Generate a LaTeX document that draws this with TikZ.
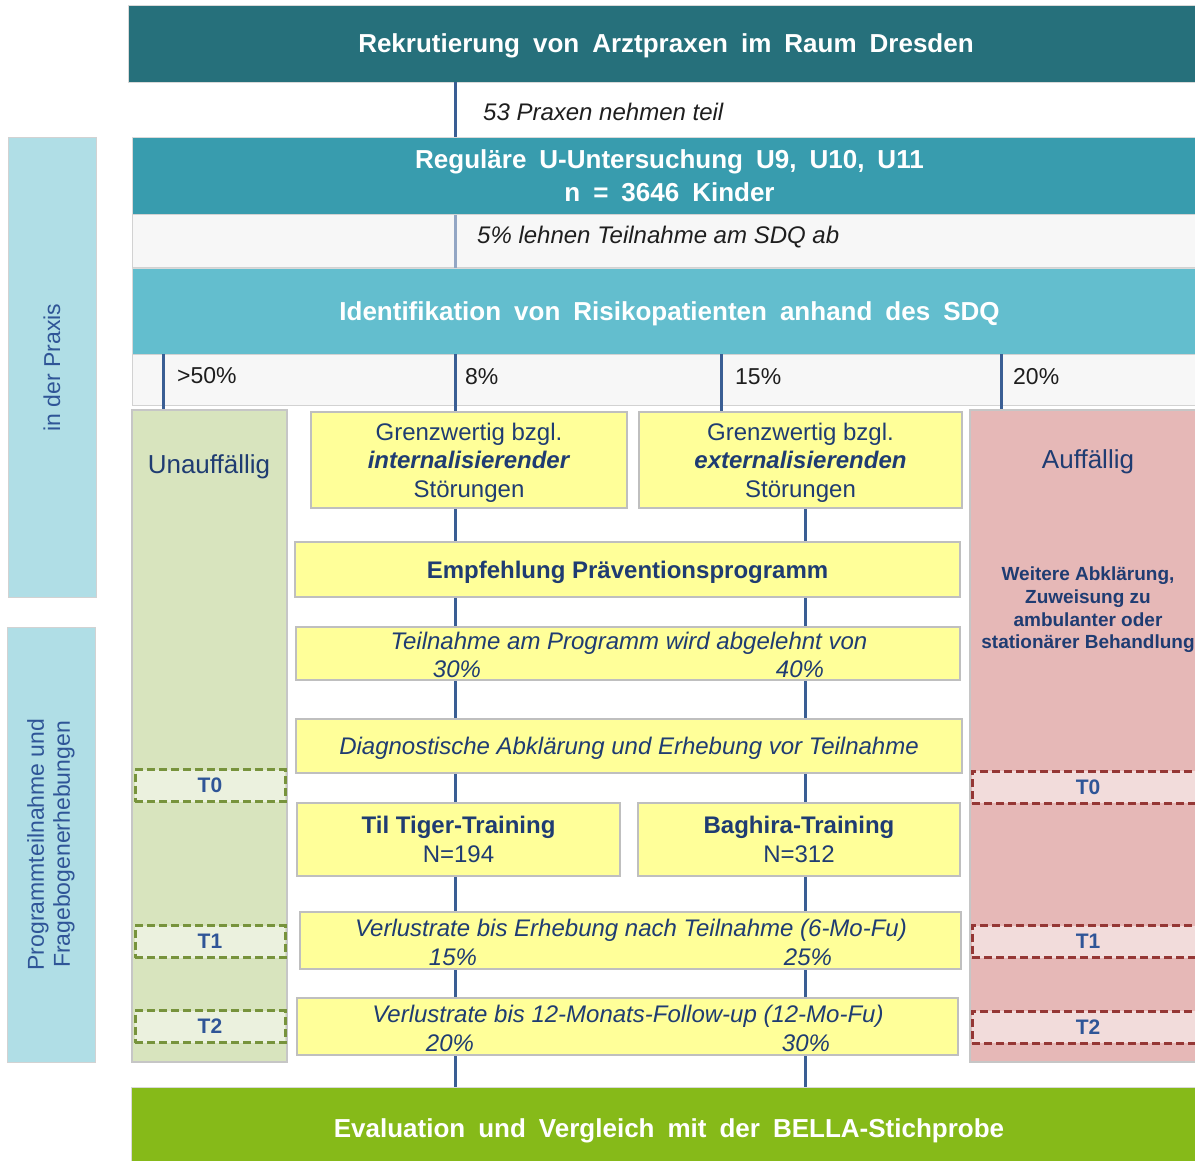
\documentclass[tikz,border=0pt]{standalone}
\usepackage{fontspec}
\setmainfont{Liberation Sans}
\newfontfamily\widefont{Liberation Sans}[WordSpace=1.8]
\usetikzlibrary{positioning,backgrounds}

\definecolor{tealdark}{HTML}{26707B}
\definecolor{tealmid}{HTML}{389CAE}
\definecolor{teallight}{HTML}{63BECE}
\definecolor{evalgreen}{HTML}{86BA19}
\definecolor{bandgray}{HTML}{F7F7F7}
\definecolor{sideblue}{HTML}{B0DEE6}
\definecolor{colgreen}{HTML}{D8E4BE}
\definecolor{colred}{HTML}{E6B8B7}
\definecolor{boxyellow}{HTML}{FFFF99}
\definecolor{navytext}{HTML}{1F3C72}
\definecolor{linkblue}{HTML}{3A5E94}
\definecolor{ink}{HTML}{1E1E1E}
\definecolor{tgreen}{HTML}{77933C}
\definecolor{tgreenfill}{HTML}{EBF1DE}
\definecolor{tred}{HTML}{953735}
\definecolor{tredfill}{HTML}{F2DCDB}
\definecolor{ttext}{HTML}{2F5597}

\tikzset{
  bar/.style={fill=#1, draw=gray!30, line width=0.8pt, text=white, inner sep=0pt, text depth=0pt,
    font=\widefont\bfseries\fontsize{26}{33}\selectfont, align=center},
  band/.style={fill=bandgray, draw=gray!35, line width=1pt, inner sep=0pt},
  column/.style={fill=#1, draw=gray!45, line width=1.2pt, inner sep=0pt},
  coltext/.style={text=navytext, inner sep=0pt, align=center, font=\fontsize{26}{30}\selectfont},
  ybox/.style={fill=boxyellow, draw=gray!50, line width=1.2pt, inner sep=0pt, text depth=0pt,
    text=navytext, align=center, font=\fontsize{24}{28.5}\selectfont},
  ytext/.style={text=navytext, inner sep=0pt, text depth=0pt, font=\itshape\fontsize{24}{28}\selectfont},
  note/.style={anchor=west, text=ink, inner sep=0pt, font=\itshape\fontsize{24}{28}\selectfont},
  pct/.style={anchor=west, text=ink, inner sep=0pt, font=\fontsize{23}{28}\selectfont},
  tmark/.style={draw=#1, dash pattern=on 8pt off 4pt, line width=3pt, minimum height=32pt,
    inner sep=0pt, text=ttext, font=\bfseries\fontsize{21}{25}\selectfont},
  side/.style={fill=sideblue, draw=gray!35, line width=1pt, rotate=90, inner sep=0pt,
    minimum height=88pt, text=ttext, align=center, font=\fontsize{23}{26}\selectfont},
  link/.style={draw=linkblue, line width=3pt},
}

\begin{document}
\begin{tikzpicture}[x=1pt, y=-1pt]
  \useasboundingbox (0,0) rectangle (1195,1161);

  % chain positions
  \coordinate (c1) at (163,0);
  \coordinate (cL) at (455,0);
  \coordinate (c3) at (721,0);
  \coordinate (cR) at (805,0);
  \coordinate (c4) at (1001,0);

  % side labels
  \node[side, minimum width=459pt] (praxis) at (52,367.5) {in der Praxis};
  \node[side, minimum width=435pt] (programm) at (51,844.5) {Programmteilnahme und\\Fragebogenerhebungen};

  % main bars and bands
  \node[bar=tealdark, minimum width=1076pt, minimum height=77pt] (rekr) at (666,43.5)
    {Rekrutierung von Arztpraxen im Raum Dresden};
  \node[bar=tealmid, minimum width=1075pt, minimum height=78pt] (regul) at (669.5,176)
    {Reguläre U-Untersuchung U9, U10, U11\\n = 3646 Kinder};
  \node[band, minimum width=1075pt, minimum height=53pt] (refuse) at (669.5,241.5) {};
  \node[bar=teallight, minimum width=1075pt, minimum height=86pt] (ident) at (669.5,311)
    {Identifikation von Risikopatienten anhand des SDQ};
  \node[band, minimum width=1075pt, minimum height=51pt] (split) at (669.5,379.5) {};
  \node[bar=evalgreen, minimum width=1076pt, minimum height=82pt] (eval) at (669,1128)
    {Evaluation und Vergleich mit der BELLA-Stichprobe};

  \node[note] (praxen) at (483,112) {53 Praxen nehmen teil};
  \node[note] (lehnen) at (477,237) {5\% lehnen Teilnahme am SDQ ab};

  % outer columns
  \node[column=colgreen, minimum width=155pt, minimum height=652pt] (unauf) at (209.5,736) {};
  \node[column=colred, minimum width=236pt, minimum height=652pt] (auff) at (1088,736) {};
  \node[coltext] (unauftxt) at (209,467) {Unauffällig};
  \node[coltext] (aufftxt) at (1088,462) {Auffällig};
  \node[text=navytext, align=center, inner sep=0pt, font=\bfseries\fontsize{19}{22.7}\selectfont]
    (weitere) at (1088,610) {Weitere Abklärung,\\Zuweisung zu\\ambulanter oder\\stationärer Behandlung};

  \foreach \t/\y in {T0/785.5, T1/941.5, T2/1026.5}
    \node[tmark=tgreen, fill=tgreenfill, minimum width=150pt] (g\t) at (210,\y) {\t};
  \foreach \t/\y in {T0/787, T1/941.5, T2/1027}
    \node[tmark=tred, fill=tredfill, minimum width=232pt] (r\t) at (1088,\y) {\t};

  % percentages
  \node[pct] (p50) at (177,376) {>50\%};
  \node[pct] (p8) at (465,377) {8\%};
  \node[pct] (p15) at (735,377) {15\%};
  \node[pct] (p20) at (1013,377) {20\%};

  % yellow boxes
  \node[ybox, minimum width=316pt, minimum height=96pt] (int) at (469,460)
    {Grenzwertig bzgl.\\\textbf{\textit{internalisierender}}\\Störungen};
  \node[ybox, minimum width=323pt, minimum height=96pt] (ext) at (800.5,460)
    {Grenzwertig bzgl.\\\textbf{\textit{externalisierenden}}\\Störungen};
  \node[ybox, minimum width=665pt, minimum height=55pt, font=\bfseries\fontsize{24}{28}\selectfont]
    (empf) at (627.5,569.5) {Empfehlung Präventionsprogramm};
  \node[ybox, minimum width=664pt, minimum height=53pt] (abl) at (628,653.5) {};
  \node[ytext] (abltxt) at (629,641) {Teilnahme am Programm wird abgelehnt von};
  \node[ytext] (abl30) at (457,669) {30\%};
  \node[ytext] (abl40) at (800,669) {40\%};
  \node[ybox, minimum width=666pt, minimum height=54pt, font=\itshape\fontsize{24}{28}\selectfont]
    (diag) at (629,746) {Diagnostische Abklärung und Erhebung vor Teilnahme};
  \node[ybox, minimum width=323pt, minimum height=73pt] (tiger) at (458.5,839.5)
    {\textbf{Til Tiger-Training}\\N=194};
  \node[ybox, minimum width=322pt, minimum height=73pt] (baghira) at (799,839.5)
    {\textbf{Baghira-Training}\\N=312};
  \node[ybox, minimum width=661pt, minimum height=57pt] (verl1) at (630.5,940.5) {};
  \node[ytext] (verl1txt) at (631,928) {Verlustrate bis Erhebung nach Teilnahme (6-Mo-Fu)};
  \node[ytext] (verl15) at (453,957) {15\%};
  \node[ytext] (verl25) at (808,957) {25\%};
  \node[ybox, minimum width=661pt, minimum height=57pt] (verl2) at (627.5,1026.5) {};
  \node[ytext] (verl2txt) at (628,1014) {Verlustrate bis 12-Monats-Follow-up (12-Mo-Fu)};
  \node[ytext] (verl20) at (450,1043) {20\%};
  \node[ytext] (verl30) at (806,1043) {30\%};

  % connectors
  \draw[link] (rekr.south -| cL) -- (regul.north -| cL);
  \draw[link, draw=linkblue!55] (regul.south -| cL) -- (ident.north -| cL);
  \draw[link] (ident.south -| c1) -- (unauf.north -| c1);
  \draw[link] (ident.south -| cL) -- (int.north -| cL);
  \draw[link] (ident.south -| c3) -- (ext.north -| c3);
  \draw[link] (ident.south -| c4) -- (auff.north -| c4);
  \begin{scope}[on background layer]
    \draw[link] (int.south -| cL) -- (eval.north -| cL);
    \draw[link] (ext.south -| cR) -- (eval.north -| cR);
  \end{scope}
\end{tikzpicture}
\end{document}
